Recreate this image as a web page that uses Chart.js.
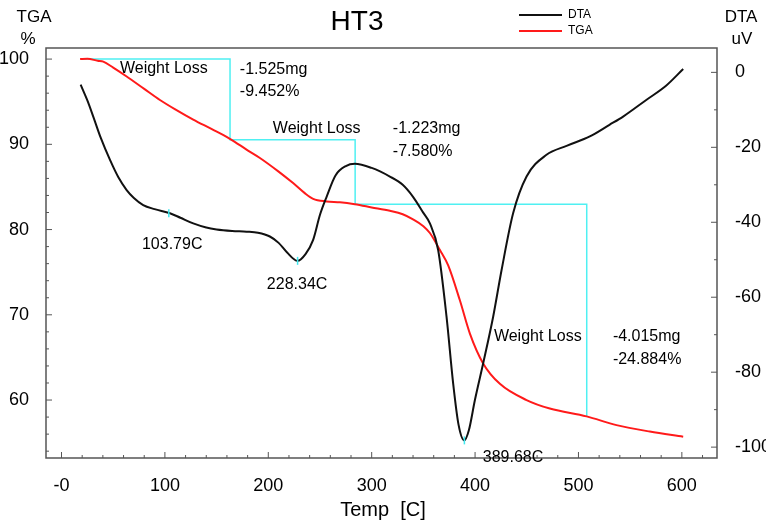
<!DOCTYPE html>
<html>
<head>
<meta charset="utf-8">
<script src="https://cdn.jsdelivr.net/npm/chart.js@4.4.1/dist/chart.umd.min.js"></script>
<style>
  html, body { margin: 0; padding: 0; background: #fff; }
  #wrap { width: 766px; height: 523px; }
</style>
</head>
<body>
<div id="wrap"><canvas id="chart" width="766" height="523"></canvas></div>
<script>
// DTA curve (temperature C, uV)
var dtaTemp = [18.5, 25, 30.7, 38, 46.8, 55, 63, 70, 79, 90, 104.9, 115, 127.4, 140, 150, 165, 179, 190, 201.5, 210, 218, 228.3, 236, 243.4, 250, 256.4, 265, 275, 283.7, 300, 317.6, 330, 340, 350, 356.3, 364.3, 372.4, 378.8, 384, 389.5, 394, 399.8, 407.8, 417.5, 425.6, 436.8, 449.8, 469.1, 488.5, 511, 530, 543.2, 565.9, 585, 601.3];
var dtaValue = [-3.3, -7.5, -11.8, -17.5, -23.3, -28, -31.4, -33.5, -35.4, -36.5, -37.6, -38.8, -40.3, -41.4, -41.9, -42.3, -42.5, -42.8, -43.8, -45.5, -48, -50.3, -48.5, -44.7, -38, -33.2, -27.5, -25, -24.4, -25.5, -27.8, -30, -33.2, -37.5, -40.3, -47.4, -65.2, -83, -94, -98.2, -95.5, -87.5, -77.7, -65.2, -52.8, -37.6, -27.8, -22, -19.6, -17.1, -14, -11.8, -7.3, -3.5, 0.9];

// TGA curve (temperature C, %)
var tgaTemp = [18, 25, 35, 40.4, 50, 63, 80, 95.2, 110, 127.4, 145, 162.9, 180, 191.9, 210, 224, 235, 243.4, 256.4, 269.3, 283.7, 300, 317.6, 330, 340, 350, 356.3, 366, 374, 385.3, 395, 407.8, 424, 449.8, 472.3, 507.8, 536.8, 569, 601.3];
var tgaValue = [100.0, 100.05, 99.8, 99.7, 99.0, 97.96, 96.5, 95.2, 94.1, 92.9, 91.8, 90.65, 89.3, 88.4, 86.8, 85.45, 84.3, 83.6, 83.3, 83.2, 82.97, 82.6, 82.2, 81.8, 81.2, 80.4, 79.6, 77.6, 75.8, 71.7, 67.8, 64.3, 61.9, 60, 59, 58.08, 57.06, 56.3, 55.7];

// weight loss steps
var stepTemp = [22, 163, 163, 284, 284, 508, 508];
var stepValue = [100, 100, 90.548, 90.548, 82.968, 82.968, 58.084];

// DTA peaks
var peakTemp = [103.79, 228.34, 389.68];
var peakValue = [-37.6, -50.3, -98.2];

var notes = [
  { text: 'Weight Loss', x: 56.5, y: 98.9 },
  { text: '-1.525mg', x: 172.5, y: 98.75 },
  { text: '-9.452%', x: 172.5, y: 96.16 },
  { text: 'Weight Loss', x: 204.4, y: 91.8 },
  { text: '-1.223mg', x: 320.5, y: 91.8 },
  { text: '-7.580%', x: 320.5, y: 89.1 },
  { text: 'Weight Loss', x: 418.2, y: 67.4 },
  { text: '-4.015mg', x: 533.3, y: 67.4 },
  { text: '-24.884%', x: 533.3, y: 64.7 },
  { text: '389.68C', x: 407.5, y: 53.3 },
  { text: '103.79C', x: 77.8, y: 78.2 },
  { text: '228.34C', x: 198.6, y: 73.5 }
];

function pts(xs, ys) {
  return xs.map(function (x, i) { return { x: x, y: ys[i] }; });
}

var FONT = '"Liberation Sans", Arial, Helvetica, sans-serif';
var tickFont = { family: FONT, size: 18 };

const overlay = {
  id: 'overlay',
  afterDraw(chart) {
    const ctx = chart.ctx, a = chart.chartArea;
    const x = chart.scales.x, y = chart.scales.y, y2 = chart.scales.y2;
    ctx.save();
    ctx.strokeStyle = '#555';
    ctx.lineWidth = 1.5;
    ctx.strokeRect(a.left, a.top, a.right - a.left, a.bottom - a.top);

    ctx.lineWidth = 1;
    ctx.beginPath();
    x.ticks.forEach(function (t) {
      var px = x.getPixelForValue(t.value), len = t.value % 100 === 0 ? 6 : 3;
      ctx.moveTo(px, a.bottom); ctx.lineTo(px, a.bottom - len);
    });
    y.ticks.forEach(function (t) {
      var py = y.getPixelForValue(t.value), len = t.value % 10 === 0 ? 6 : 3;
      ctx.moveTo(a.left, py); ctx.lineTo(a.left + len, py);
    });
    y2.ticks.forEach(function (t) {
      var py = y2.getPixelForValue(t.value), len = t.value % 20 === 0 ? 6 : 3;
      ctx.moveTo(a.right, py); ctx.lineTo(a.right - len, py);
    });
    ctx.stroke();

    ctx.fillStyle = '#000';
    ctx.textBaseline = 'middle';
    ctx.textAlign = 'left';
    ctx.font = '16px ' + FONT;
    notes.forEach(function (n) {
      ctx.fillText(n.text, x.getPixelForValue(n.x), y.getPixelForValue(n.y));
    });

    ctx.textAlign = 'center';
    ctx.font = '28px ' + FONT;
    ctx.fillText('HT3', 357, 22);
    ctx.font = '17px ' + FONT;
    ctx.fillText('TGA', 34, 17);
    ctx.fillText('%', 28, 39);
    ctx.fillText('DTA', 741, 17);
    ctx.fillText('uV', 742, 39);
    ctx.textBaseline = 'alphabetic';
    ctx.font = '20px ' + FONT;
    ctx.fillText('Temp  [C]', 383, 516);

    // legend
    ctx.textBaseline = 'middle';
    ctx.lineWidth = 2;
    ctx.strokeStyle = '#111';
    ctx.beginPath(); ctx.moveTo(519, 15); ctx.lineTo(562, 15); ctx.stroke();
    ctx.strokeStyle = '#ff1a1a';
    ctx.beginPath(); ctx.moveTo(519, 31); ctx.lineTo(562, 31); ctx.stroke();
    ctx.textAlign = 'left';
    ctx.font = '12px ' + FONT;
    ctx.fillText('DTA', 568, 15);
    ctx.fillText('TGA', 568, 31);
    ctx.restore();
  }
};

const chart = new Chart(document.getElementById('chart'), {
  type: 'line',
  data: {
    datasets: [{
      label: 'peaks',
      data: pts(peakTemp, peakValue),
      yAxisID: 'y2',
      showLine: false,
      pointStyle: 'line',
      rotation: 90,
      pointRadius: 4,
      borderColor: '#40e8ee',
      borderWidth: 1.5
    }, {
      label: 'DTA',
      data: pts(dtaTemp, dtaValue),
      yAxisID: 'y2',
      borderColor: '#111',
      borderWidth: 2,
      pointRadius: 0,
      cubicInterpolationMode: 'monotone'
    }, {
      label: 'TGA',
      data: pts(tgaTemp, tgaValue),
      yAxisID: 'y',
      borderColor: '#ff1a1a',
      borderWidth: 2,
      pointRadius: 0,
      cubicInterpolationMode: 'monotone'
    }, {
      label: 'steps',
      data: pts(stepTemp, stepValue),
      yAxisID: 'y',
      borderColor: '#4ff0f2',
      borderWidth: 1.5,
      pointRadius: 0,
      tension: 0
    }]
  },
  options: {
    responsive: false,
    animation: false,
    devicePixelRatio: 1,
    layout: { padding: { top: 48, left: 0, right: 0, bottom: 0 } },
    plugins: { legend: { display: false }, tooltip: { enabled: false }, title: { display: false } },
    scales: {
      x: {
        type: 'linear', min: -15, max: 634,
        afterFit: function (s) { s.height = 65; },
        grid: { display: false }, border: { display: false },
        ticks: {
          stepSize: 20, autoSkip: false, maxRotation: 0, includeBounds: false,
          padding: 9, color: '#000', font: tickFont,
          callback: function (v) { return v % 100 === 0 ? (v === 0 ? '-0' : String(v)) : ''; }
        }
      },
      y: {
        type: 'linear', position: 'left', min: 53.2, max: 101.3,
        afterFit: function (s) { s.width = 46; },
        grid: { display: false }, border: { display: false },
        ticks: {
          stepSize: 2, autoSkip: false, includeBounds: false,
          padding: 9, color: '#000', font: tickFont,
          callback: function (v) { return v % 10 === 0 ? String(v) : ''; }
        }
      },
      y2: {
        type: 'linear', position: 'right', min: -102.9, max: 6.5,
        afterFit: function (s) { s.width = 49; },
        grid: { display: false }, border: { display: false },
        ticks: {
          stepSize: 10, autoSkip: false, includeBounds: false,
          padding: 10, color: '#000', font: tickFont,
          callback: function (v) { return v % 20 === 0 ? String(v) : ''; }
        }
      }
    }
  },
  plugins: [overlay]
});
</script>
</body>
</html>
